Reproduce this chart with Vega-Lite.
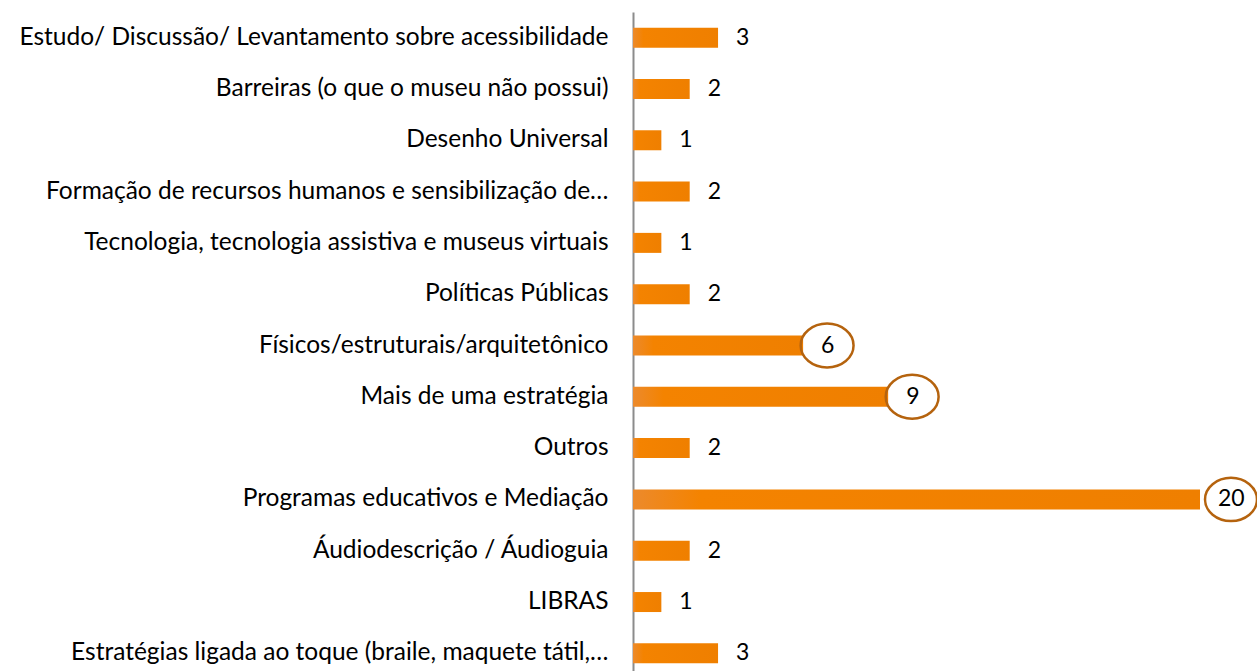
{
  "$schema": "https://vega.github.io/schema/vega-lite/v6.json",
  "width": 567,
  "height": 667,
  "autosize": {"type": "none"},
  "padding": {"left": 633, "top": 12, "right": 57, "bottom": 0},
  "background": "white",
  "config": {"view": {"stroke": null}, "font": "Lato"},
  "data": {
    "values": [
      {"cat": "Estudo/ Discussão/ Levantamento sobre acessibilidade", "value": 3, "circled": false},
      {"cat": "Barreiras (o que o museu não possui)", "value": 2, "circled": false},
      {"cat": "Desenho Universal", "value": 1, "circled": false},
      {"cat": "Formação de recursos humanos e sensibilização de…", "value": 2, "circled": false},
      {"cat": "Tecnologia, tecnologia assistiva e museus virtuais", "value": 1, "circled": false},
      {"cat": "Políticas Públicas ", "value": 2, "circled": false},
      {"cat": "Físicos/estruturais/arquitetônico", "value": 6, "circled": true},
      {"cat": "Mais de uma estratégia", "value": 9, "circled": true},
      {"cat": "Outros ", "value": 2, "circled": false},
      {"cat": "Programas educativos e Mediação", "value": 20, "circled": true},
      {"cat": "Áudiodescrição / Áudioguia", "value": 2, "circled": false},
      {"cat": "LIBRAS", "value": 1, "circled": false},
      {"cat": "Estratégias ligada ao toque (braile, maquete tátil,…", "value": 3, "circled": false}
    ]
  },
  "encoding": {
    "y": {
      "field": "cat",
      "type": "nominal",
      "sort": null,
      "scale": {"paddingInner": 0.6, "paddingOuter": 0.3},
      "axis": {
        "title": null,
        "ticks": false,
        "labelPadding": 25,
        "labelLimit": 700,
        "labelFont": "Lato",
        "labelFontSize": 24.5,
        "labelColor": "#000000",
        "domainColor": "#8c8c8c",
        "domainWidth": 2
      }
    },
    "x": {
      "field": "value",
      "type": "quantitative",
      "scale": {"domain": [0, 20], "nice": false},
      "axis": null
    }
  },
  "layer": [
    {
      "mark": {
        "type": "bar",
        "height": 20,
        "color": {
          "gradient": "linear",
          "x1": 0, "y1": 0, "x2": 1, "y2": 0,
          "stops": [
            {"offset": 0, "color": "#EC8A2C"},
            {"offset": 0.12, "color": "#F48300"},
            {"offset": 1, "color": "#EF7F00"}
          ]
        }
      }
    },
    {
      "mark": {"type": "text", "align": "left", "baseline": "middle", "dx": 18, "fontSize": 23, "font": "Lato", "color": "#000000"},
      "encoding": {"text": {"field": "value", "type": "quantitative"}}
    },
    {
      "transform": [{"filter": "datum.circled && datum.value < 10"}],
      "mark": {
        "type": "point",
        "shape": "M -1 0 A 1 0.83 0 1 0 1 0 A 1 0.83 0 1 0 -1 0 Z",
        "size": 2800,
        "filled": false,
        "stroke": "#B5630E",
        "strokeWidth": 2.5,
        "opacity": 1,
        "xOffset": 24
      }
    },
    {
      "transform": [{"filter": "datum.circled && datum.value >= 10"}],
      "mark": {
        "type": "point",
        "shape": "M -1 0 A 1 0.83 0 1 0 1 0 A 1 0.83 0 1 0 -1 0 Z",
        "size": 2700,
        "filled": false,
        "stroke": "#B5630E",
        "strokeWidth": 2.5,
        "opacity": 1,
        "xOffset": 31
      }
    }
  ]
}
